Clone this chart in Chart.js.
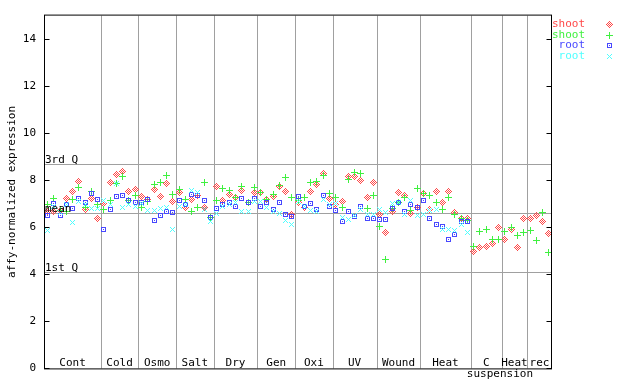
<!DOCTYPE html>
<html lang="en">
<head>
<meta charset="UTF-8"/>
<title>affy-normalized expression</title>
<script src="https://cdn.jsdelivr.net/npm/chart.js@4"></script>
<style>
  * { margin: 0; padding: 0; }
  body { background: #fff; width: 640px; height: 384px; overflow: hidden; }
</style>
</head>
<body>
<canvas id="chart" width="640" height="384"></canvas>
<script>
// treatment groups along x, number of samples in each
const groupNames = ['Cont', 'Cold', 'Osmo', 'Salt', 'Dry', 'Gen', 'Oxi', 'UV', 'Wound', 'Heat', 'C', 'Heat', 'rec'];
const groupSizes = [9, 6, 6, 6, 7, 6, 6, 7, 7, 8, 5, 4, 4];
const subLabel = 'suspension';
const subLabelX = 72.2;

// expression values, one per sample (index = x position)
const shootA = [
  6.68, 6.65, 6.70, 7.23, 7.52, 7.95, 6.75, 7.23, 6.38,
  7.02, 7.89, 8.24, 8.38, 7.54, 7.61,
  7.31, 7.20, 7.61, 7.31, 7.86, 7.09,
  7.47, 6.83, 7.19, 7.35, 6.86, 6.41,
  7.75, 7.12, 7.40, 7.26, 7.57, 7.04, 7.47,
  7.47, 7.19, 7.30, 7.75, 7.54, 6.56,
  7.04, 6.83, 7.54, 7.82, 8.27, 7.22,
  6.98, 7.09, 8.17, 8.17, 8.00, 7.28, 7.89,
  6.56, 5.77, 6.69, 7.47, 7.37, 6.60, 6.83,
  7.42, 6.75, 7.51, 7.04, 7.51, 6.62, 6.38, 6.39,
  4.98, 5.12, 5.19, 5.33, 6.00,
  5.50, 5.92, 5.12, 6.37,
  6.37, 6.51, 6.23, 5.75
];
const shootB = [
  6.95, 7.23, 6.72, 6.65, 7.19, 7.70, 6.83, 7.54, 6.95,
  6.77, 7.15, 7.86, 8.17, 7.12, 7.33,
  6.86, 7.10, 7.82, 7.89, 8.21, 7.40,
  7.61, 7.19, 6.69, 6.83, 7.89, 6.41,
  7.15, 7.65, 7.57, 7.26, 7.75, 7.05, 7.70,
  7.50, 7.20, 7.40, 7.79, 8.13, 7.26,
  7.12, 7.28, 7.92, 7.96, 8.20, 7.44,
  7.28, 6.86, 8.03, 8.34, 8.27, 6.81, 7.37,
  6.03, 4.62, 6.80, 7.05, 7.28, 6.72, 7.65,
  7.42, 7.37, 7.04, 6.77, 7.28, 6.56, 6.39, 6.27,
  5.20, 5.81, 5.92, 5.50, 5.46,
  5.81, 6.00, 5.67, 5.77,
  5.85, 5.42, 6.62, 4.94
];
const rootA = [
  6.48, 7.03, 6.48, 6.95, 6.81, 7.23, 7.04, 7.44, 7.20,
  5.92, 6.77, 7.30, 7.33, 7.12, 7.04,
  7.04, 7.19, 6.27, 6.48, 6.69, 6.62,
  7.15, 6.98, 7.40, 7.37, 7.15, 6.41,
  6.81, 6.95, 7.04, 6.90, 7.23, 7.04, 7.23,
  6.90, 7.04, 6.77, 7.04, 6.56, 6.44,
  7.30, 6.90, 7.02, 6.77, 7.37, 6.90,
  6.72, 6.24, 6.65, 6.44, 6.90, 6.39, 6.39,
  6.34, 6.34, 6.79, 7.07, 6.69, 6.98, 6.83,
  7.12, 6.39, 6.10, 6.05, 5.50, 5.71, 6.24, 6.24
];
const rootB = [
  5.85, 6.90, 6.62, 6.95, 6.22, 7.10, 6.95, 6.81, 6.81,
  7.15, 6.98, 7.86, 6.83, 6.95, 6.90,
  7.00, 6.72, 6.72, 6.80, 6.85, 5.92,
  6.90, 6.95, 7.57, 7.50, 6.77, 6.24,
  6.58, 6.90, 6.95, 7.05, 6.69, 6.69, 7.10,
  7.10, 6.83, 6.69, 6.58, 6.27, 6.13,
  7.10, 6.90, 6.72, 6.67, 7.16, 6.95,
  7.00, 6.40, 6.34, 6.50, 6.77, 6.56, 6.56,
  6.77, 6.62, 7.02, 7.07, 6.56, 7.12, 6.51,
  6.56, 6.72, 6.77, 5.92, 5.92, 5.88, 6.10, 5.79
];

const yTicks = [0, 2, 4, 6, 8, 10, 12, 14];
const refNames = ['3rd Q', 'mean', '1st Q'];
const refValues = [8.67, 6.61, 4.08];

const seriesNames  = ['shoot', 'shoot', 'root', 'root'];
const seriesColors = ['#ff4848', '#40f040', '#4848ff', '#50ffff'];
const seriesMarks  = ['diamond', 'plus', 'square', 'cross'];

const FONT = "'DejaVu Sans Mono', monospace";

// small pixel markers like the original bitmap plot
function makeMarker(kind, color) {
  const c = document.createElement('canvas');
  c.width = 7; c.height = 7;
  const g = c.getContext('2d');
  g.fillStyle = color;
  for (let i = 0; i < 7; i++) {
    for (let j = 0; j < 7; j++) {
      const di = Math.abs(i - 3), dj = Math.abs(j - 3);
      let on = false;
      if (kind === 'diamond') on = di + dj <= 3 && (i + j) % 2 === 1;
      if (kind === 'plus')    on = di === 0 || dj === 0;
      if (kind === 'cross')   on = di === dj && di <= 2;
      if (kind === 'square')  on = (Math.max(di, dj) === 2) || (di === 0 && dj === 0);
      if (on) g.fillRect(i, j, 1, 1);
    }
  }
  return c;
}
const markers = seriesMarks.map((m, i) => makeMarker(m, seriesColors[i]));

const toPoints = arr => arr.map((v, i) => ({ x: i, y: v }));
const seriesData = [shootA, shootB, rootA, rootB];

const datasets = seriesData.map((arr, i) => ({
  label: seriesNames[i],
  data: toPoints(arr),
  pointStyle: markers[i],
  pointRadius: 3,
  order: 4 - i
}));

const decor = {
  id: 'decor',
  beforeDatasetsDraw(chart) {
    const { ctx, chartArea: a, scales: { x, y } } = chart;
    // keep the pixel markers crisp
    ctx.imageSmoothingEnabled = false;
    ctx.save();
    ctx.strokeStyle = '#a0a0a0';
    ctx.lineWidth = 1;
    // group separators
    let cum = 0;
    groupSizes.slice(0, -1).forEach(n => {
      cum += n;
      const px = Math.round(x.getPixelForValue(cum - 0.5)) + 0.5;
      ctx.beginPath(); ctx.moveTo(px, a.top); ctx.lineTo(px, a.bottom); ctx.stroke();
    });
    // quartile / mean lines
    refValues.forEach(v => {
      const py = Math.round(y.getPixelForValue(v)) + 0.5;
      ctx.beginPath(); ctx.moveTo(a.left, py); ctx.lineTo(a.right, py); ctx.stroke();
    });
    ctx.restore();
  },
  afterDatasetsDraw(chart) {
    const { ctx, chartArea: a, scales: { x, y } } = chart;
    ctx.save();
    ctx.font = '11px ' + FONT;
    ctx.fillStyle = '#000';
    // group labels
    ctx.textAlign = 'center';
    ctx.textBaseline = 'alphabetic';
    let start = 0;
    groupNames.forEach((name, g) => {
      const mid = start + (groupSizes[g] - 1) / 2;
      ctx.fillText(name, x.getPixelForValue(mid), a.bottom - 2);
      start += groupSizes[g];
    });
    ctx.fillText(subLabel, x.getPixelForValue(subLabelX), a.bottom + 9);
    // reference line labels
    ctx.textAlign = 'left';
    refNames.forEach((t, i) => {
      ctx.fillText(t, a.left, Math.round(y.getPixelForValue(refValues[i])) - 1);
    });
    // frame
    ctx.strokeStyle = '#000';
    ctx.lineWidth = 1;
    const L = a.left - 0.5, R = a.right - 0.5, T = a.top - 0.5, B = a.bottom + 0.5;
    ctx.strokeRect(L, T, R - L, B - T);
    // inward ticks on both sides
    yTicks.forEach(v => {
      const py = Math.round(y.getPixelForValue(v)) + 0.5;
      ctx.beginPath();
      ctx.moveTo(L, py); ctx.lineTo(L + 5, py);
      ctx.moveTo(R, py); ctx.lineTo(R - 5, py);
      ctx.stroke();
    });
    // y title
    ctx.save();
    ctx.translate(12, (a.top + a.bottom) / 2);
    ctx.rotate(-Math.PI / 2);
    ctx.textAlign = 'center';
    ctx.textBaseline = 'middle';
    ctx.fillText('affy-normalized expression', 0, 0);
    ctx.restore();
    // legend
    ctx.textAlign = 'right';
    ctx.textBaseline = 'middle';
    seriesNames.forEach((t, i) => {
      const ly = 24 + i * 10.7;
      ctx.fillStyle = seriesColors[i];
      ctx.fillText(t, 585, ly);
      ctx.drawImage(markers[i], 606, Math.round(ly) - 3);
    });
    ctx.restore();
  }
};

new Chart(document.getElementById('chart'), {
  type: 'scatter',
  data: { datasets },
  options: {
    responsive: false,
    animation: false,
    devicePixelRatio: 1,
    layout: { padding: { left: 0, top: 14, right: 88, bottom: 15 } },
    plugins: { legend: { display: false }, tooltip: { enabled: false } },
    scales: {
      x: { type: 'linear', min: -0.4, max: 80.5, display: false },
      y: {
        min: 0, max: 15,
        afterBuildTicks: s => { s.ticks = yTicks.map(v => ({ value: v })); },
        afterFit: s => { s.width = 45; },
        grid: { display: false, drawTicks: false },
        border: { display: false },
        ticks: { color: '#000', padding: 9, font: { family: FONT, size: 11 } }
      }
    }
  },
  plugins: [decor]
});
</script>
</body>
</html>
